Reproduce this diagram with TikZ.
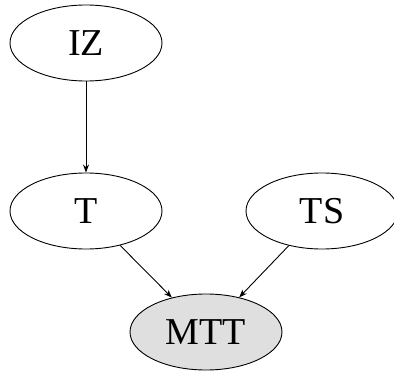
\documentclass[tikz,border=0pt]{standalone}
\usepackage{fontspec}
\setmainfont{Liberation Serif}
\usetikzlibrary{arrows.meta,shapes.geometric}

\begin{document}
\begin{tikzpicture}[x=1pt, y=-1pt, line width=0.9pt,
        var/.style={draw, ellipse, minimum width=152pt, minimum height=76pt,
            inner sep=0pt, font=\fontsize{38}{42}\selectfont},
        obs/.style={var, fill=gray!25},
        edge/.style={-{Stealth[length=8pt,width=6pt]}}]
            \useasboundingbox (0,0) rectangle (394,372);
            \node[var] (IZ) at (86,43) {IZ};
            \node[var] (T) at (86,211) {T};
            \node[var] (TS) at (322,211) {TS};
            \node[obs] (MTT) at (206,332) {MTT};
            \draw[edge] (IZ) -- (T);
            \draw[edge] (T) -- (MTT);
            \draw[edge] (TS) -- (MTT);
        \end{tikzpicture}
\end{document}
